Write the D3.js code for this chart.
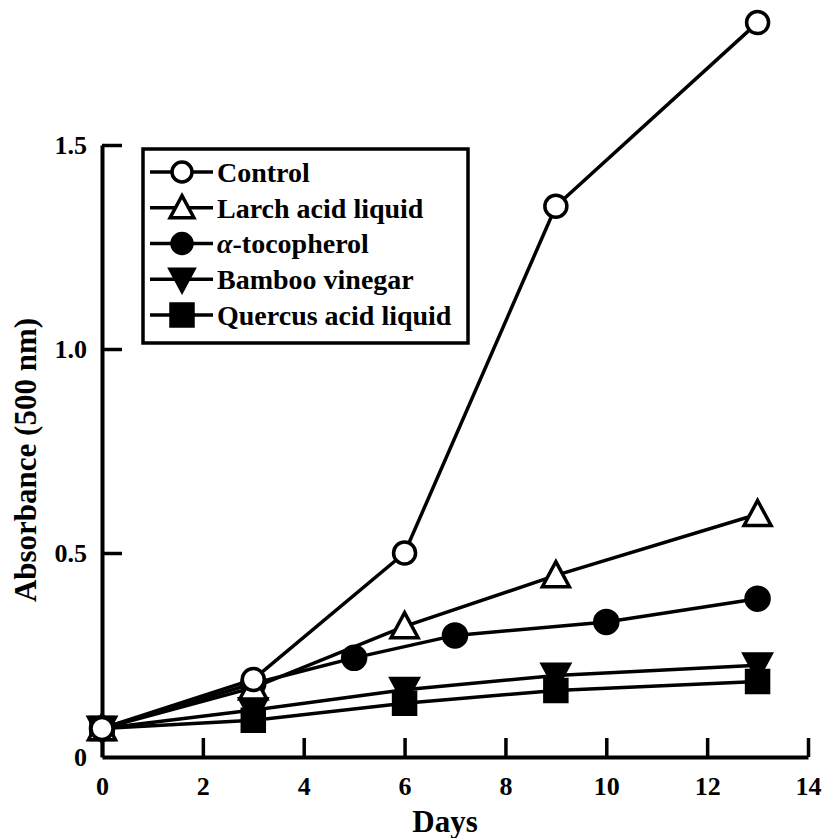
<!DOCTYPE html>
<html>
<head>
<meta charset="utf-8">
<script src="https://cdn.jsdelivr.net/npm/d3@7"></script>
<style>
  body { margin: 0; background: #fff; }
  svg text { font-family: "Liberation Serif", "Times New Roman", serif; font-weight: bold; fill: #000; }
</style>
</head>
<body>
<div id="chart"></div>
<script>
// data
const days = [0, 3, 6, 9, 13];
const tocDays = [0, 3, 5, 7, 10, 13];
const control = [0.07, 0.19, 0.50, 1.35, 1.80];
const larch = [0.07, 0.17, 0.32, 0.445, 0.595];
const tocopherol = [0.07, 0.18, 0.243, 0.298, 0.331, 0.388];
const bamboo = [0.07, 0.115, 0.165, 0.20, 0.225];
const quercus = [0.07, 0.09, 0.132, 0.163, 0.185];
const xTicks = [0, 2, 4, 6, 8, 10, 12, 14];
const yTicks = [0, 0.5, 1.0, 1.5];

const W = 827, H = 838;

const svg = d3.select("#chart").append("svg")
    .attr("width", W)
    .attr("height", H);

// scales
const x = d3.scaleLinear().domain([0, 14]).range([102, 808]);
const y = d3.scaleLinear().domain([0, 1.5]).range([757, 145]);

// marker shapes, drawn around 0,0
const shapes = {
    circle: r => `M${-r},0A${r},${r} 0 1,0 ${r},0A${r},${r} 0 1,0 ${-r},0Z`,
    triUp: s => `M0,${-s * 0.55}L${s * 0.54},${s * 0.45}L${-s * 0.54},${s * 0.45}Z`,
    triDown: s => `M0,${s * 0.55}L${s * 0.54},${-s * 0.45}L${-s * 0.54},${-s * 0.45}Z`,
    square: s => `M${-s / 2},${-s / 2}H${s / 2}V${s / 2}H${-s / 2}Z`
};

const series = [
    { name: "Control", xs: days, ys: control, shape: "circle", size: 11, fill: "#fff" },
    { name: "Larch acid liquid", xs: days, ys: larch, shape: "triUp", size: 25, fill: "#fff" },
    { name: "tocopherol", xs: tocDays, ys: tocopherol, shape: "circle", size: 11.5, fill: "#000" },
    { name: "Bamboo vinegar", xs: days, ys: bamboo, shape: "triDown", size: 25, fill: "#000" },
    { name: "Quercus acid liquid", xs: days, ys: quercus, shape: "square", size: 22, fill: "#000" }
];

// axes
const xAxis = svg.append("g")
    .attr("transform", `translate(0,${y(0)})`)
    .call(d3.axisBottom(x).tickValues(xTicks).tickFormat(d3.format("d"))
        .tickSizeInner(-19).tickSizeOuter(0).tickPadding(20));

const yAxis = svg.append("g")
    .attr("transform", `translate(${x(0)},0)`)
    .call(d3.axisLeft(y).tickValues(yTicks).tickFormat(d => d === 0 ? "0" : d3.format(".1f")(d))
        .tickSizeInner(-20).tickSizeOuter(0).tickPadding(15));

[xAxis, yAxis].forEach(g => {
    g.select(".domain").attr("stroke", "#000").attr("stroke-width", 4);
    g.selectAll(".tick line").attr("stroke", "#000").attr("stroke-width", 3.5);
    g.selectAll(".tick text")
        .style("font-family", "'Liberation Serif', 'Times New Roman', serif")
        .style("font-weight", "bold")
        .style("font-size", "26px");
});
yAxis.selectAll(".tick").filter(d => d === 0).select("line").remove();

// axis titles
svg.append("text")
    .attr("x", 445)
    .attr("y", 832)
    .attr("text-anchor", "middle")
    .style("font-size", "31px")
    .text("Days");

svg.append("text")
    .attr("transform", "translate(36,460) rotate(-90)")
    .attr("text-anchor", "middle")
    .style("font-size", "31px")
    .text("Absorbance (500 nm)");

// lines then markers, control drawn last so it sits on top
const line = d3.line().x(d => x(d[0])).y(d => y(d[1]));

series.slice().reverse().forEach(s => {
    const pts = s.xs.map((d, i) => [d, s.ys[i]]);
    svg.append("path")
        .datum(pts)
        .attr("d", line)
        .attr("fill", "none")
        .attr("stroke", "#000")
        .attr("stroke-width", 3.5);
});

series.slice().reverse().forEach(s => {
    const pts = s.xs.map((d, i) => [d, s.ys[i]]);
    svg.selectAll(null)
        .data(pts)
        .enter().append("path")
        .attr("transform", d => `translate(${x(d[0])},${y(d[1])})`)
        .attr("d", shapes[s.shape](s.size))
        .attr("fill", s.fill)
        .attr("stroke", "#000")
        .attr("stroke-width", 3.5);
});

// legend
const legend = svg.append("g");
legend.append("rect")
    .attr("x", 143).attr("y", 149)
    .attr("width", 325).attr("height", 194)
    .attr("fill", "#fff")
    .attr("stroke", "#000")
    .attr("stroke-width", 3.5);

const rowY = d3.scalePoint().domain(series.map(s => s.name)).range([172, 315]);

series.forEach(s => {
    const g = legend.append("g").attr("transform", `translate(0,${rowY(s.name)})`);
    g.append("line")
        .attr("x1", 150).attr("x2", 213)
        .attr("stroke", "#000").attr("stroke-width", 3.5);
    g.append("path")
        .attr("transform", "translate(182,0)")
        .attr("d", shapes[s.shape](s.shape === "circle" ? 10 : 22))
        .attr("fill", s.fill)
        .attr("stroke", "#000")
        .attr("stroke-width", 3.5);
    const t = g.append("text")
        .attr("x", 217)
        .attr("dy", "0.35em")
        .style("font-size", "28px");
    if (s.name === "tocopherol") {
        t.append("tspan").style("font-style", "italic").text("\u03b1");
        t.append("tspan").text("-tocopherol");
    } else {
        t.text(s.name);
    }
});
</script>
</body>
</html>
